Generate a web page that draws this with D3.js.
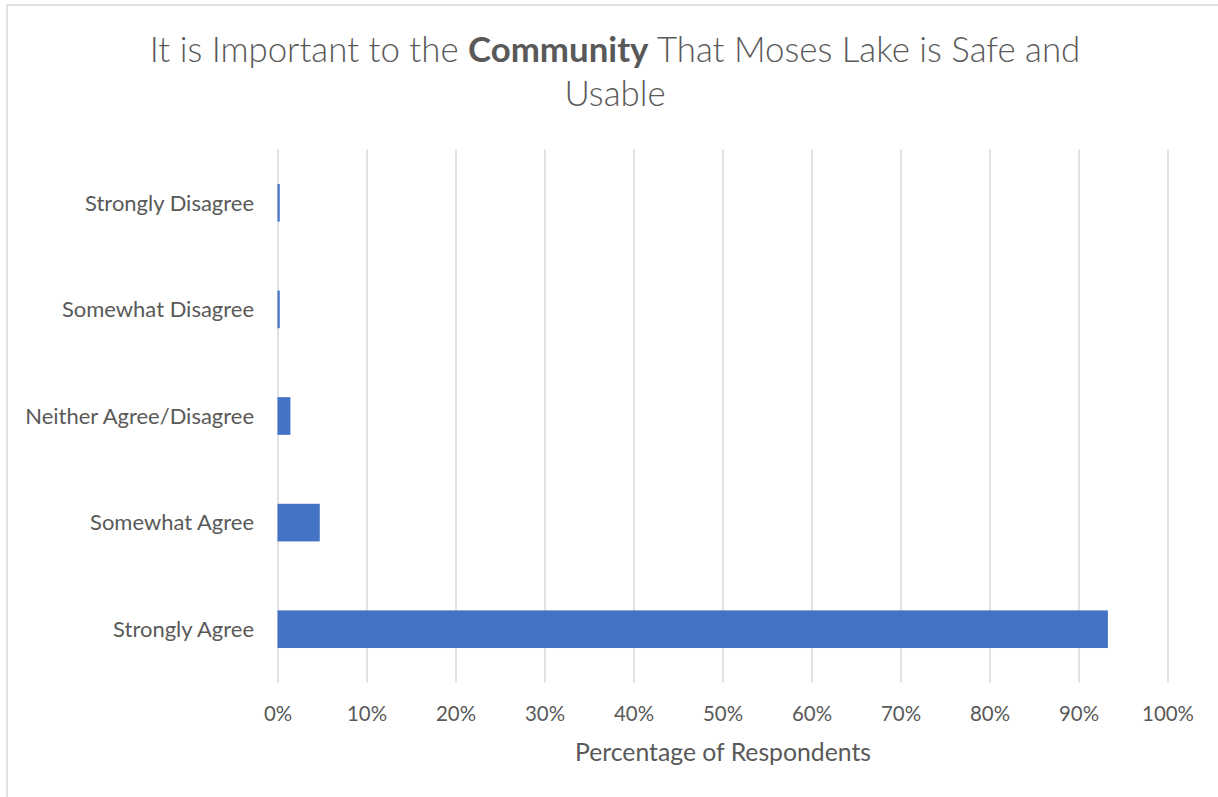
<!DOCTYPE html>
<html>
<head>
<meta charset="utf-8">
<script src="https://cdn.jsdelivr.net/npm/d3@7"></script>
<style>
  html, body { margin: 0; padding: 0; background: #fff; }
  svg { display: block; font-family: Lato, "Open Sans", sans-serif; }
</style>
</head>
<body>
<svg id="chart" width="1218" height="797"></svg>
<script>
// Survey responses, top to bottom as listed on the axis
const categories = ["Strongly Disagree", "Somewhat Disagree", "Neither Agree/Disagree", "Somewhat Agree", "Strongly Agree"];
const percentages = [0.25, 0.25, 1.45, 4.75, 93.3];
const tickValues = [0, 10, 20, 30, 40, 50, 60, 70, 80, 90, 100];
const titleParts = [
  { text: "It is Important to the ", bold: false },
  { text: "Community", bold: true },
  { text: " That Moses Lake is Safe and", bold: false }
];
const titleLine2 = "Usable";
const axisTitle = "Percentage of Respondents";

const svg = d3.select("#chart");
const W = 1218, H = 797;
const textColor = "#595959";
const gridColor = "#d9d9d9";
const barColor = "#4472c4";

// sizes a text node so its rendered width equals target
function fitWidth(sel, target) {
  sel.style("font-size", "100px");
  const w = sel.node().getComputedTextLength();
  const size = 100 * target / w;
  sel.style("font-size", size + "px");
  return size;
}

// outer frame (left and top edges visible)
svg.append("path")
  .attr("d", `M7,${H} L7,5 L${W},5`)
  .attr("fill", "none")
  .attr("stroke", gridColor)
  .attr("stroke-width", 1.5);

const plot = { left: 277.5, right: 1167.5, top: 149.5, bottom: 682.5 };

const x = d3.scaleLinear().domain([0, 100]).range([plot.left, plot.right]);
const y = d3.scaleBand()
  .domain(categories)
  .range([plot.top, plot.bottom])
  .paddingInner(0.647)
  .paddingOuter(0.647 / 2);

// vertical gridlines
const xAxis = d3.axisBottom(x)
  .tickValues(tickValues)
  .tickSize(-(plot.bottom - plot.top))
  .tickFormat(d => d + "%");

const gx = svg.append("g")
  .attr("transform", `translate(0,${plot.bottom})`)
  .call(xAxis);
gx.select(".domain").remove();
gx.selectAll(".tick line")
  .attr("stroke", gridColor)
  .attr("stroke-width", 1.5);
const tickText = gx.selectAll(".tick text")
  .attr("fill", textColor)
  .attr("y", 0)
  .attr("dy", 0)
  .attr("transform", "translate(0,38.5)")
  .style("font-family", "Lato, sans-serif");
// common size from the widest label
const tickSize = fitWidth(d3.select(tickText.nodes()[tickText.size() - 1]), 52);
tickText.style("font-size", tickSize + "px");

// bars
svg.append("g").selectAll("rect")
  .data(categories.map((c, i) => ({ c, v: percentages[i] })))
  .join("rect")
  .attr("x", x(0))
  .attr("y", d => y(d.c))
  .attr("width", d => x(d.v) - x(0))
  .attr("height", y.bandwidth())
  .attr("fill", barColor);

// category axis
const yAxis = d3.axisLeft(y).tickSize(0).tickPadding(0);
const gy = svg.append("g")
  .attr("transform", `translate(254,0)`)
  .call(yAxis);
gy.select(".domain").remove();
const catText = gy.selectAll(".tick text")
  .attr("fill", textColor)
  .attr("x", 0)
  .attr("dy", "0.35em")
  .style("font-family", "Lato, sans-serif");
const catSize = fitWidth(d3.select(catText.nodes()[2]), 229);
catText.style("font-size", catSize + "px");

// axis title
const at = svg.append("text")
  .attr("x", (575 + 871) / 2)
  .attr("y", 761)
  .attr("text-anchor", "middle")
  .attr("fill", textColor)
  .text(axisTitle);
fitWidth(at, 296);

// chart title
const t1 = svg.append("text")
  .attr("x", 615)
  .attr("y", 62)
  .attr("text-anchor", "middle")
  .attr("fill", textColor)
  .style("font-weight", 300);
t1.selectAll("tspan")
  .data(titleParts)
  .join("tspan")
  .style("font-weight", d => d.bold ? 700 : 300)
  .text(d => d.text);
const titleSize = fitWidth(t1, 931);

svg.append("text")
  .attr("x", 615)
  .attr("y", 106)
  .attr("text-anchor", "middle")
  .attr("fill", textColor)
  .style("font-weight", 300)
  .style("font-size", titleSize + "px")
  .text(titleLine2);
</script>
</body>
</html>
